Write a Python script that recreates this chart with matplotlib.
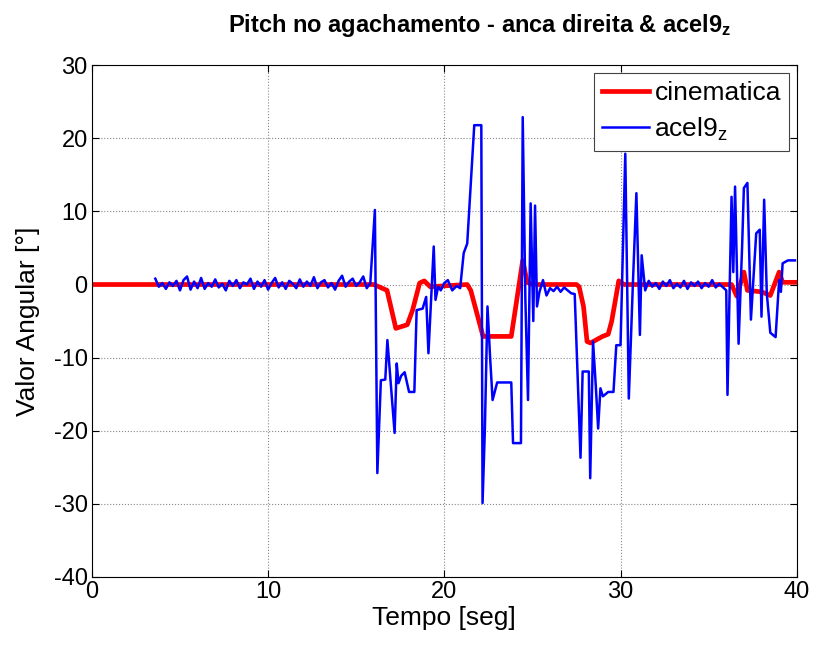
import numpy as np
import matplotlib
matplotlib.use("Agg")
import matplotlib.pyplot as plt

plt.rcParams['font.family'] = ['Liberation Sans', 'DejaVu Sans']
plt.rcParams['mathtext.fontset'] = 'custom'
plt.rcParams['mathtext.rm'] = 'Liberation Sans'
plt.rcParams['mathtext.bf'] = 'Liberation Sans:bold'
plt.rcParams['mathtext.default'] = 'regular'
plt.rcParams['axes.unicode_minus'] = False

# cinematica (red)
t_cin = [0.0, 16.0, 16.75, 17.25, 17.9, 18.2, 18.6, 18.86, 19.2, 21.3, 21.5, 22.2,
         23.8, 24.45, 24.7, 25.0, 27.5, 27.65, 27.9, 28.1, 28.3, 28.98, 29.3, 29.5,
         29.9, 30.2, 36.3, 36.6, 37.0, 37.2, 38.0, 38.5, 39.0, 39.2, 39.9]
y_cin = [0.0, 0.0, -0.8, -6.0, -5.5, -3.5, 0.2, 0.5, -0.3, 0.0, -0.8, -7.1,
         -7.1, 3.3, 0.3, 0.0, 0.0, -0.3, -3.0, -7.8, -8.0, -7.1, -6.8, -5.0,
         0.5, 0.0, 0.0, -1.6, 1.7, -0.8, -1.0, -1.5, 1.7, 0.3, 0.3]

# acel9_z (blue) - quiet part 3.6 .. 15.8 s
t_quiet = [3.6 + 0.2 * i for i in range(62)]
y_quiet = [0.8, -0.3, 0.2, -0.6, 0.3, -0.2, 0.5, -0.8, 0.6, 1.1, -0.7, 0.4, -0.5, 0.9,
           -0.6, 0.2, -0.3, 0.7, -0.4, 0.1, -0.8, 0.5, -0.2, 0.6, -0.5, 0.3, 0.0, 0.8,
           -0.6, 0.4, -0.3, 0.6, -0.7, 0.2, 0.9, -0.4, 0.3, -0.6, 0.5, 0.1, -0.5, 0.7,
           -0.3, 0.4, -0.2, 1.0, -0.5, 0.3, 0.6, -0.4, 0.2, -0.7, 0.5, 1.2, -0.3, 0.4,
           0.8, -0.2, 0.3, 1.1, -0.5, 0.2]

# acel9_z active part
t_act = [16.06, 16.2, 16.4, 16.65, 16.77, 17.18, 17.3, 17.4, 17.55, 17.75, 18.0, 18.3,
         18.43, 18.77, 18.97, 19.1, 19.4, 19.5, 19.65, 19.8, 20.0, 20.2, 20.45, 20.7,
         20.9, 21.1, 21.3, 21.7, 22.1, 22.17, 22.3, 22.45, 22.6, 22.74, 23.0, 23.8,
         23.9, 24.35, 24.45, 24.6, 24.75, 24.9, 25.05, 25.15, 25.26, 25.4, 25.6, 25.8,
         26.0, 26.2, 26.4, 26.6, 26.8, 27.0, 27.2, 27.4, 27.73, 27.85, 28.2, 28.28,
         28.44, 28.6, 28.73, 28.86, 29.0, 29.3, 29.6, 29.76, 30.0, 30.27, 30.47, 30.7,
         30.9, 31.1, 31.2, 31.4]
y_act = [10.2, -25.8, -13.1, -13.0, -7.6, -20.3, -10.8, -13.5, -12.5, -12.0, -14.7, -14.7,
         -3.5, -3.3, -1.7, -9.4, 5.2, -2.1, -0.3, -0.8, 0.2, 0.6, -0.8, -0.2,
         -0.5, 4.3, 5.6, 21.8, 21.8, -29.9, -20.0, -3.0, -10.0, -15.8, -13.4, -13.4,
         -21.7, -21.7, 22.9, -2.0, -15.8, 11.1, -5.0, 10.8, -3.0, -1.0, 0.6, -1.5,
         -0.5, -0.9, -0.3, -1.0, -0.4, -0.8, -1.2, -1.3, -23.7, -11.9, -11.9, -26.5,
         -7.8, -14.0, -19.7, -14.2, -15.3, -14.7, -14.7, -8.3, -8.3, 17.9, -15.6, 0.0,
         12.5, -6.9, 4.0, -0.8]

t_quiet2 = [31.6 + 0.2 * i for i in range(21)]
y_quiet2 = [0.5, -0.3, 0.2, -0.6, 0.4, -0.2, 0.6, -0.5, 0.1, -0.4, 0.5, -0.6, 0.3,
            -0.2, 0.4, -0.5, 0.2, -0.3, 0.6, -0.4, 0.1]

t_end = [36.0, 36.07, 36.3, 36.4, 36.5, 36.7, 36.9, 37.0, 37.2, 37.4, 37.7, 37.9,
         38.0, 38.15, 38.3, 38.5, 38.8, 39.0, 39.1, 39.2, 39.5, 39.9]
y_end = [-0.8, -15.1, 12.0, 1.7, 13.4, -8.1, 5.2, 13.2, 13.9, -4.8, 7.0, 7.5,
         -4.4, 11.6, -1.2, -6.6, -7.2, 0.6, -1.0, 2.9, 3.3, 3.3]

t_acel = t_quiet + t_act + t_quiet2 + t_end
y_acel = y_quiet + y_act + y_quiet2 + y_end

fig = plt.figure(figsize=(8.13, 6.46), dpi=100)
ax = fig.add_axes([0.113, 0.107, 0.867, 0.792])

ax.plot(t_cin, y_cin, color='#ff0000', linewidth=3.4, label='cinematica')
ax.plot(t_acel, y_acel, color='#0000ff', linewidth=1.8, label='acel9$_z$')

ax.set_xlim(0, 40)
ax.set_ylim(-40, 30)
ax.set_xticks(np.arange(0, 41, 10))
ax.set_yticks(np.arange(-40, 31, 10))
ax.grid(True, linestyle=':', color='#888888', linewidth=0.8)
ax.tick_params(direction='in', labelsize=17, top=True, right=True, length=5, pad=3)
for s in ax.spines.values():
    s.set_linewidth(0.8)

ax.set_xlabel('Tempo [seg]', fontsize=19, labelpad=2)
ax.set_ylabel('Valor Angular [°]', fontsize=19, labelpad=10)
ttl = ax.set_title('Pitch no agachamento - anca direita & acel9$_\\mathbf{z}$',
                   fontsize=17, fontweight='bold', pad=24)
ttl.set_x(0.55)

leg = ax.legend(loc='upper right', fontsize=19, handlelength=1.8, handletextpad=0.2,
                fancybox=False, framealpha=1, edgecolor='#444444', borderaxespad=0.3,
                labelspacing=0.4, borderpad=0.3)
leg.get_frame().set_linewidth(0.8)

fig.savefig('out.png', dpi=100)
